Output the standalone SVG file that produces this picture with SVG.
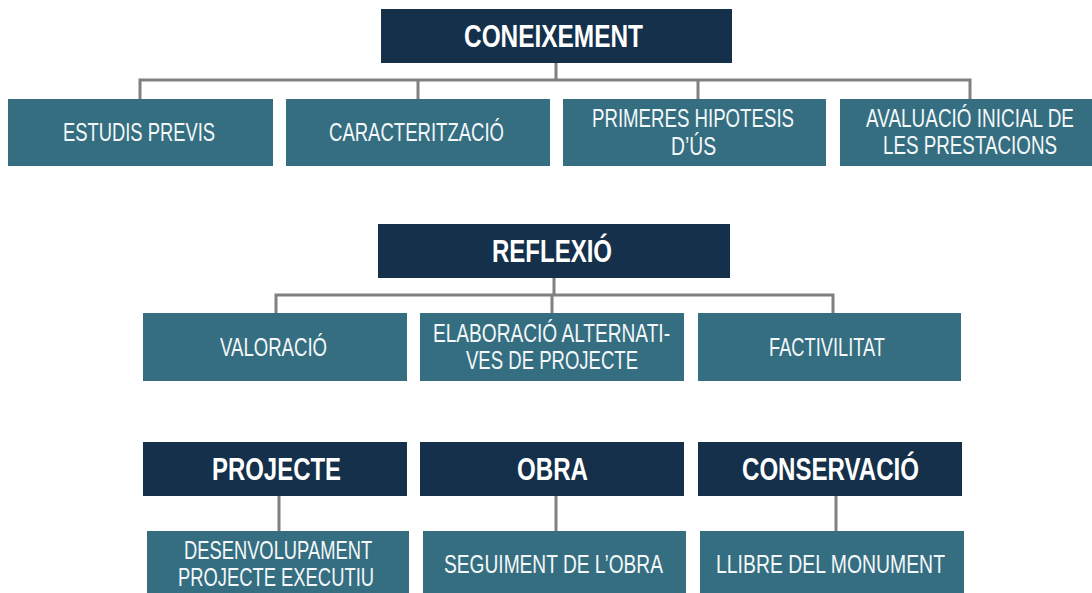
<svg xmlns="http://www.w3.org/2000/svg" width="1092" height="593" viewBox="0 0 1092 593">
<style>
.hd{fill:#15304a}
.bx{fill:#356e80}
.ht{fill:#fff;font-family:"Liberation Sans",Arial,sans-serif;font-weight:bold;font-size:31px}
.t{fill:#f4f8fa;font-family:"Liberation Sans",Arial,sans-serif;font-size:26px}
.c{fill:none;stroke:#808080;stroke-width:3}
</style>
<rect width="1092" height="593" fill="#fff"/>
<g id="connectors">
<path class="c" d="M556 63V80M140 99V80H970V99M418 80V99M698 80V99"/>
<path class="c" d="M554 278V295M276 313V295H833V313M552 295V313"/>
<path class="c" d="M279 496V531M556 496V531M836 496V531"/>
</g>
<g id="coneixement"><rect class="hd" x="381" y="9" width="351" height="54"/><text class="ht" x="464" y="47" textLength="179" lengthAdjust="spacingAndGlyphs">CONEIXEMENT</text></g>
<g id="estudis"><rect class="bx" x="8" y="99" width="265" height="67"/><text class="t" x="63" y="141" textLength="152" lengthAdjust="spacingAndGlyphs">ESTUDIS PREVIS</text></g>
<g id="caracteritzacio"><rect class="bx" x="286" y="99" width="264" height="67"/><text class="t" x="329" y="141" textLength="175" lengthAdjust="spacingAndGlyphs">CARACTERITZACIÓ</text></g>
<g id="hipotesis"><rect class="bx" x="563" y="99" width="263" height="67"/><text class="t" x="592" y="127" textLength="202" lengthAdjust="spacingAndGlyphs">PRIMERES HIPOTESIS</text><text class="t" x="671" y="155" textLength="45" lengthAdjust="spacingAndGlyphs">D’ÚS</text></g>
<g id="avaluacio"><rect class="bx" x="840" y="99" width="252" height="67"/><text class="t" transform="translate(866 127) scale(0.717 1)" textLength="290" lengthAdjust="spacingAndGlyphs">AVALUACIÓ INICIAL DE</text><text class="t" transform="translate(883 154) scale(0.716 1)" textLength="243" lengthAdjust="spacingAndGlyphs">LES PRESTACIONS</text></g>
<g id="reflexio"><rect class="hd" x="378" y="224" width="352" height="54"/><text class="ht" x="492" y="262" textLength="120" lengthAdjust="spacingAndGlyphs">REFLEXIÓ</text></g>
<g id="valoracio"><rect class="bx" x="143" y="313" width="264" height="68"/><text class="t" x="220" y="356" textLength="107" lengthAdjust="spacingAndGlyphs">VALORACIÓ</text></g>
<g id="elaboracio"><rect class="bx" x="420" y="313" width="264" height="68"/><text class="t" transform="translate(433 342) scale(0.7226 1)" textLength="328" lengthAdjust="spacingAndGlyphs">ELABORACIÓ ALTERNATI-</text><text class="t" transform="translate(466 369) scale(0.713 1)" textLength="241.3" lengthAdjust="spacingAndGlyphs">VES DE PROJECTE</text></g>
<g id="factivilitat"><rect class="bx" x="698" y="313" width="263" height="68"/><text class="t" x="769" y="356" textLength="116" lengthAdjust="spacingAndGlyphs">FACTIVILITAT</text></g>
<g id="projecte"><rect class="hd" x="143" y="442" width="264" height="54"/><text class="ht" x="212" y="480" textLength="129" lengthAdjust="spacingAndGlyphs">PROJECTE</text></g>
<g id="obra"><rect class="hd" x="420" y="442" width="264" height="54"/><text class="ht" x="517" y="480" textLength="71" lengthAdjust="spacingAndGlyphs">OBRA</text></g>
<g id="conservacio"><rect class="hd" x="698" y="442" width="264" height="54"/><text class="ht" x="742" y="480" textLength="177" lengthAdjust="spacingAndGlyphs">CONSERVACIÓ</text></g>
<g id="desenvolupament"><rect class="bx" x="147" y="531" width="262" height="62"/><text class="t" transform="translate(184 559) scale(0.70 1)" textLength="268.7" lengthAdjust="spacingAndGlyphs">DESENVOLUPAMENT</text><text class="t" transform="translate(178 586) scale(0.7066 1)" textLength="277.4" lengthAdjust="spacingAndGlyphs">PROJECTE EXECUTIU</text></g>
<g id="seguiment"><rect class="bx" x="423" y="531" width="263" height="62"/><text class="t" x="444" y="573" textLength="219" lengthAdjust="spacingAndGlyphs">SEGUIMENT DE L’OBRA</text></g>
<g id="llibre"><rect class="bx" x="700" y="531" width="264" height="62"/><text class="t" x="716" y="573" textLength="229" lengthAdjust="spacingAndGlyphs">LLIBRE DEL MONUMENT</text></g>
</svg>
